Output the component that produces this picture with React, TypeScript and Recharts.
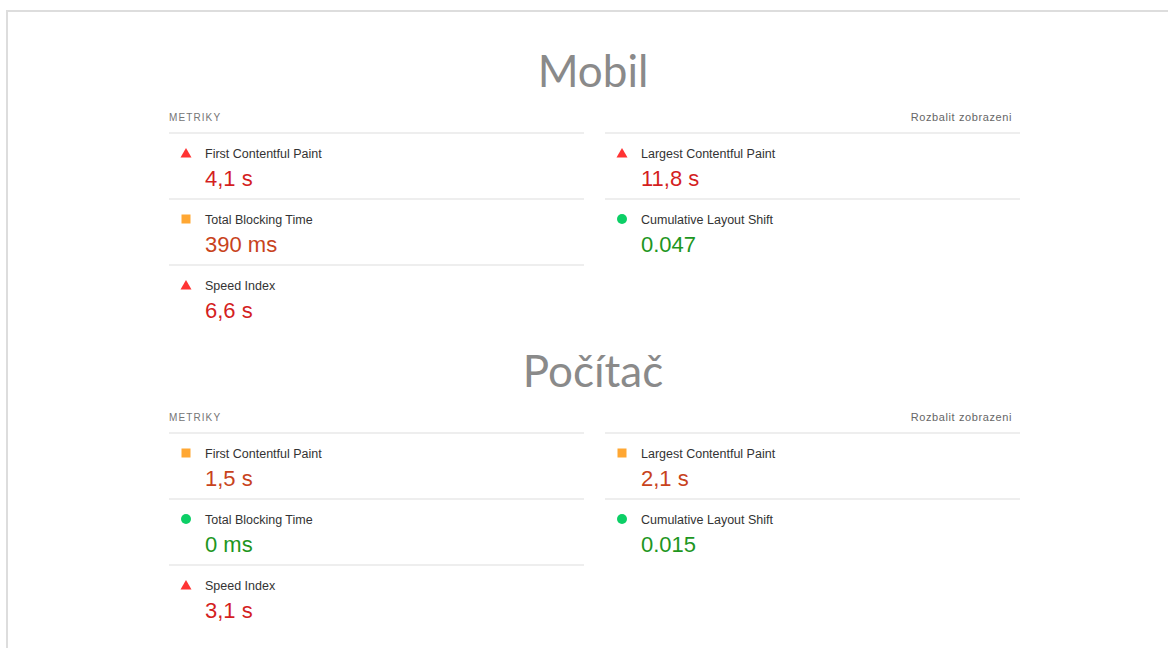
import { Scatter, ScatterChart, XAxis, YAxis } from "recharts"

const sectionTitles = ["Mobil", "Počítač"]
const headerLeft = "METRIKY"
const headerRight = "Rozbalit zobrazeni"

const metricNames = [
  "First Contentful Paint",
  "Total Blocking Time",
  "Speed Index",
  "Largest Contentful Paint",
  "Cumulative Layout Shift",
]
const metricColumns = [0, 0, 0, 1, 1]
const metricRows = [0, 1, 2, 0, 1]

const mobilValues = ["4,1 s", "390 ms", "6,6 s", "11,8 s", "0.047"]
const mobilRatings = ["fail", "average", "fail", "fail", "pass"]
const pocitacValues = ["1,5 s", "0 ms", "3,1 s", "2,1 s", "0.015"]
const pocitacRatings = ["average", "pass", "fail", "average", "pass"]

const W = 1168
const H = 648
const COL_LEFT = 169
const COL_STEP = 436
const COL_WIDTH = 415
const ROW_H = 66
const SECTION_TOP = 133
const SECTION_STEP = 300
const TITLE_X = 593

const ICON: Record<string, string> = { fail: "#ff3333", average: "#ffa733", pass: "#0ccf66" }
const TEXT: Record<string, string> = { fail: "#d41f1f", average: "#c8431c", pass: "#1e961e" }

// x axis in column units, y axis in row units
const xDomain = [-COL_LEFT / COL_STEP, (W - COL_LEFT) / COL_STEP]
const yDomain = [0, H / ROW_H]

const sectionValues = [mobilValues, pocitacValues]
const sectionRatings = [mobilRatings, pocitacRatings]

const sectionData = sectionTitles.map((title, s) => ({
  x: 0,
  y: (SECTION_TOP + s * SECTION_STEP) / ROW_H,
  title,
}))

const metricData = sectionTitles.flatMap((_, s) =>
  metricNames.map((name, i) => ({
    x: metricColumns[i],
    y: (SECTION_TOP + s * SECTION_STEP) / ROW_H + metricRows[i],
    name,
    value: sectionValues[s][i],
    rating: sectionRatings[s][i],
  }))
)

const FONT = "'Liberation Sans', Arial, sans-serif"

function SectionShape(props: any) {
  const { cx, cy, payload } = props
  return (
    <g>
      <text
        x={TITLE_X}
        y={cy - 46}
        textAnchor="middle"
        fill="#8a8a8a"
        fontSize={44}
        fontFamily="Lato, 'Open Sans', sans-serif"
      >
        {payload.title}
      </text>
      <text x={cx} y={cy - 12.5} fill="#757575" fontSize={10} letterSpacing={1.1} fontFamily={FONT}>
        {headerLeft}
      </text>
      <text
        x={cx + COL_STEP + COL_WIDTH - 8}
        y={cy - 12}
        textAnchor="end"
        fill="#666"
        fontSize={11}
        letterSpacing={0.6}
        fontFamily={FONT}
      >
        {headerRight}
      </text>
    </g>
  )
}

function Icon({ x, y, rating }: { x: number; y: number; rating: string }) {
  const fill = ICON[rating]
  if (rating === "fail") {
    return <polygon points={`${x},${y - 5} ${x + 5.5},${y + 4.5} ${x - 5.5},${y + 4.5}`} fill={fill} />
  }
  if (rating === "average") {
    return <rect x={x - 4.5} y={y - 4.5} width={9} height={9} fill={fill} />
  }
  return <circle cx={x} cy={y} r={5} fill={fill} />
}

function MetricShape(props: any) {
  const { cx, cy, payload } = props
  return (
    <g>
      <line x1={cx} x2={cx + COL_WIDTH} y1={cy} y2={cy} stroke="#eeeeee" strokeWidth={2} />
      <Icon x={cx + 17} y={cy + 20} rating={payload.rating} />
      <text x={cx + 36} y={cy + 24.5} fill="#333" fontSize={12.5} fontFamily={FONT}>
        {payload.name}
      </text>
      <text x={cx + 36} y={cy + 53} fill={TEXT[payload.rating]} fontSize={22} fontFamily={FONT}>
        {payload.value}
      </text>
    </g>
  )
}

export default function App() {
  return (
    <div
      style={{
        position: "absolute",
        left: 0,
        top: 0,
        width: W,
        height: H,
        background: "#fff",
        overflow: "hidden",
      }}
    >
      <div
        style={{
          position: "absolute",
          left: 6,
          top: 10,
          right: 0,
          bottom: 0,
          borderLeft: "2px solid #dddddd",
          borderTop: "2px solid #dddddd",
        }}
      />
      <ScatterChart width={W} height={H} margin={{ top: 0, right: 0, bottom: 0, left: 0 }}>
        <XAxis type="number" dataKey="x" domain={xDomain} allowDataOverflow hide />
        <YAxis type="number" dataKey="y" domain={yDomain} allowDataOverflow reversed hide />
        <Scatter data={sectionData} shape={SectionShape} isAnimationActive={false} />
        <Scatter data={metricData} shape={MetricShape} isAnimationActive={false} />
      </ScatterChart>
    </div>
  )
}
